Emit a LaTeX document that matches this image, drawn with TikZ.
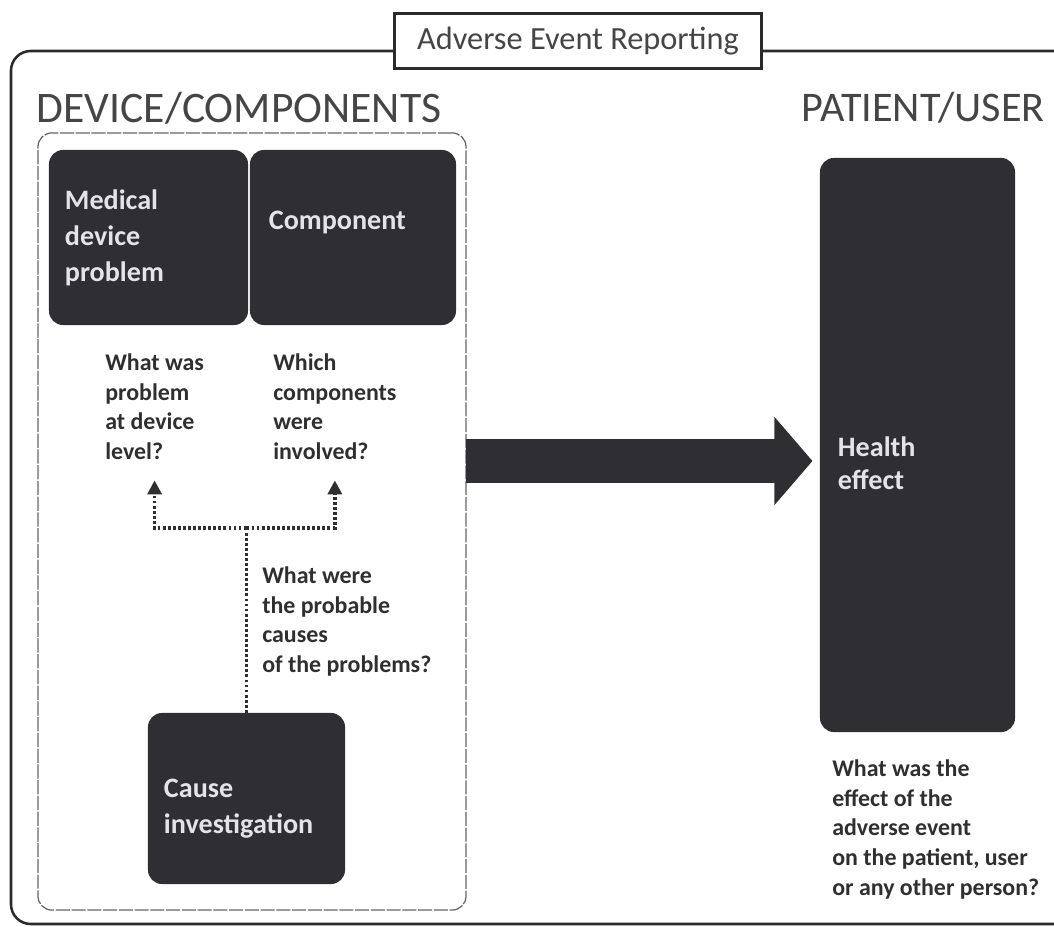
\documentclass[tikz,border=0pt]{standalone}
\usepackage{fontspec}
\setmainfont{Carlito}
\usepackage{xcolor}
\usepackage{tikz}
\usetikzlibrary{arrows.meta, positioning}

\definecolor{boxgray}{HTML}{2E2E33}
\definecolor{boxtext}{HTML}{E4E4E6}
\definecolor{qgray}{HTML}{2F2F2F}
\definecolor{headgray}{HTML}{454545}
\definecolor{framegray}{HTML}{2A2A2A}

\begin{document}
\begin{tikzpicture}[
    x=0.025cm, y=-0.025cm,
    darkbox/.style={rectangle, rounded corners=10pt, fill=boxgray, text=boxtext, align=left, inner xsep=0.4cm, font=\fontsize{20}{25.5}\selectfont\bfseries},
    question/.style={anchor=north west, inner sep=0pt, align=left, text=qgray, font=\fontsize{17}{21.3}\selectfont\bfseries},
    heading/.style={text=headgray, font=\fontsize{31}{36}\selectfont},
    titlebox/.style={rectangle, draw=framegray, line width=1.6pt, fill=white, minimum width=9.175cm, minimum height=1.375cm, text=headgray, font=\fontsize{23}{27}\selectfont},
    dotarrow/.style={-{Triangle[length=3.5mm, width=3.5mm]}, line width=2.4pt, dash pattern=on 2pt off 1.6pt, draw=qgray},
    bigarrow/.style={-{Triangle[length=9.5mm, width=21.5mm]}, line width=11mm, draw=boxgray}
]
\path[use as bounding box, clip] (0,0) rectangle (1054,927);

% Frames
\draw[framegray, line width=1.8pt, rounded corners=14pt] (11,51) rectangle (1080,924);
\node[titlebox] (title) at (578,41) {Adverse Event Reporting};
\node[rectangle, draw=gray!80!black, line width=0.9pt, dash pattern=on 10pt off 1.2pt, rounded corners=10pt, minimum width=10.7cm, minimum height=19.425cm] (devframe) at (252,521.5) {};

% Headings
\node[heading] (devhead) at (239,108) {DEVICE/COMPONENTS};
\node[heading, font=\fontsize{30}{36}\selectfont] (pathead) at (923,108) {PATIENT/USER};

% Boxes
\node[darkbox, text width=4.175cm, minimum width=4.975cm, minimum height=4.375cm] (medical) at (148.5,237.5) {Medical\\device\\problem};
\node[darkbox, text width=4.2cm, inner xsep=0.475cm, minimum width=5cm, minimum height=4.375cm] (component) at (353,237.5) {Component\par\vspace*{0.75cm}};
\node[darkbox, text width=4.125cm, minimum width=4.925cm, minimum height=4.275cm] (cause) at (246.5,798.5) {\rule{0pt}{0.97cm}Cause\\investigation};
\node[darkbox, text width=3.975cm, inner xsep=0.45cm, minimum width=4.875cm, minimum height=14.35cm, font=\fontsize{20}{23.5}\selectfont\bfseries] (health) at (917.5,445) {\rule{0pt}{1.39cm}Health\\effect};

% Questions
\node[question] (qdevice) at (105,353) {What was\\problem\\at device\\level?};
\node[question] (qcomp) at (273,353) {Which\\components\\were\\involved?};
\node[question] (qcause) at (262,566) {What were\\the probable\\causes\\of the problems?};
\node[question] (qhealth) at (832,759) {What was the\\effect of the\\adverse event\\on the patient, user\\or any other person?};

% Arrows
\coordinate (split) at (246.5,528);
\coordinate (arrowstart) at (466,461);
\draw[line width=2.4pt, dash pattern=on 2pt off 1.6pt, draw=qgray] (cause.north) -- (split);
\draw[dotarrow, shorten >=0.5cm] (split) -| (qdevice.south);
\draw[dotarrow, shorten >=0.5cm] (split) -| (qcomp.south);
\draw[bigarrow, shorten >=0.18cm] (arrowstart) -- (health.west |- arrowstart);

\end{tikzpicture}
\end{document}
